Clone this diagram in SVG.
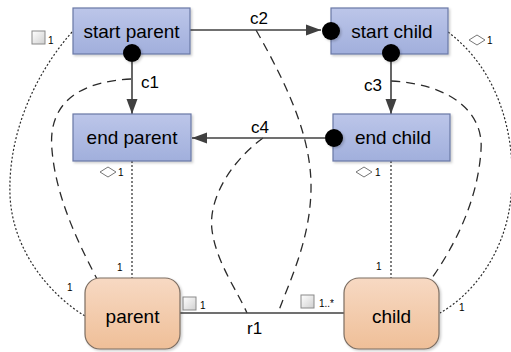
<svg xmlns="http://www.w3.org/2000/svg" width="511" height="352" viewBox="0 0 511 352">
<defs>
<linearGradient id="gBlue" x1="0" y1="0" x2="0" y2="1"><stop offset="0" stop-color="#bcc6e9"/><stop offset="1" stop-color="#a1afdc"/></linearGradient>
<linearGradient id="gOrange" x1="0" y1="0" x2="0" y2="1"><stop offset="0" stop-color="#f7d9c3"/><stop offset="1" stop-color="#efbf98"/></linearGradient>
<linearGradient id="gSq" x1="0" y1="0" x2="1" y2="1"><stop offset="0" stop-color="#ffffff"/><stop offset="1" stop-color="#d0d0d0"/></linearGradient>
<filter id="sh" x="-10%" y="-10%" width="130%" height="130%"><feDropShadow dx="1.5" dy="1.5" stdDeviation="1" flood-color="#000" flood-opacity="0.2"/></filter>
<marker id="arr" markerUnits="userSpaceOnUse" markerWidth="16" markerHeight="12" refX="15" refY="6" orient="auto"><path d="M0,0.5 L15,6 L0,11.5 z" fill="#404040"/></marker>
<style>
.box{fill:url(#gBlue);stroke:#6a78a6;stroke-width:1.2;filter:url(#sh)}
.obj{fill:url(#gOrange);stroke:#7d6e62;stroke-width:1.2;filter:url(#sh)}
.lbl{font-family:"Liberation Sans",Arial,sans-serif;font-size:19px;fill:#000;text-anchor:middle}
.cl{font-family:"Liberation Sans",Arial,sans-serif;font-size:17px;fill:#000}
.m{font-family:"Liberation Sans",Arial,sans-serif;font-size:10px;fill:#000}
.flow{stroke:#404040;stroke-width:1.6;fill:none}
.dash{stroke:#2a2a2a;stroke-width:1.3;fill:none;stroke-dasharray:9 6}
.dot{stroke:#2a2a2a;stroke-width:1.2;fill:none;stroke-dasharray:2 2}
.pin{fill:#000;filter:url(#sh)}
.sq{fill:url(#gSq);stroke:#8a8a8a;stroke-width:1}
.dm{fill:#fff;stroke:#777;stroke-width:1}
</style>
</defs>
<rect width="511" height="352" fill="#fff"/>

<g id="connectors">
<path class="dot" d="M72,32 C30,80 8,140 10,195 C12,250 50,295 85,316"/>
<path class="dot" d="M448,32 C505,75 518,150 510,205 C503,255 472,295 440,313"/>
<path class="dot" d="M132,161 L132,278"/>
<path class="dot" d="M391,161 L391,278"/>
<path class="dash" d="M131,79 C70,82 48,110 52,150 C56,200 82,250 97,279"/>
<path class="dash" d="M256,30 C290,90 312,140 311,190 C310,240 290,280 278,313"/>
<path class="dash" d="M391,81 C450,84 484,112 481,150 C478,200 455,245 432,278"/>
<path class="dash" d="M263,138 C230,162 208,200 212,230 C216,262 238,292 247,313"/>
<path class="flow" d="M180,313 L344,313"/>
<path class="flow" d="M132,62 L132,114" marker-end="url(#arr)"/>
<path class="flow" d="M189,30 L321,30" marker-end="url(#arr)"/>
<path class="flow" d="M391,62 L391,114" marker-end="url(#arr)"/>
<path class="flow" d="M325,138 L192,138" marker-end="url(#arr)"/>
<text class="cl" x="141" y="88">c1</text>
<text class="cl" x="250" y="24">c2</text>
<text class="cl" x="364" y="91">c3</text>
<text class="cl" x="251" y="133">c4</text>
<text class="cl" x="247" y="334">r1</text>
<rect class="sq" x="32" y="31" width="13" height="13"/><text class="m" x="48" y="44">1</text>
<rect class="sq" x="183" y="297" width="13" height="13"/><text class="m" x="200" y="309">1</text>
<rect class="sq" x="301" y="295" width="13" height="13"/><text class="m" x="319" y="307">1..*</text>
<path class="dm" d="M100,172 L108,167 L116,172 L108,177 z"/><text class="m" x="118" y="176">1</text>
<path class="dm" d="M469,40 L477,35 L485,40 L477,45 z"/><text class="m" x="487" y="44">1</text>
<path class="dm" d="M356,172 L364,167 L372,172 L364,177 z"/><text class="m" x="375" y="176">1</text>
<text class="m" x="117" y="271">1</text>
<text class="m" x="67" y="291">1</text>
<text class="m" x="376" y="270">1</text>
<text class="m" x="459" y="311">1</text>
</g>

<g id="start-parent"><rect class="box" x="73" y="8" width="117" height="46"/><text class="lbl" x="131.5" y="38">start parent</text><circle class="pin" cx="132" cy="53" r="9"/></g>
<g id="end-parent"><rect class="box" x="73" y="114" width="118" height="47"/><text class="lbl" x="132" y="144">end parent</text></g>
<g id="start-child"><rect class="box" x="331" y="8" width="117" height="46"/><text class="lbl" x="392" y="38">start child</text><circle class="pin" cx="331" cy="31" r="9"/><circle class="pin" cx="391" cy="53" r="9"/></g>
<g id="end-child"><rect class="box" x="333" y="114" width="117" height="47"/><text class="lbl" x="393" y="144">end child</text><circle class="pin" cx="334" cy="138" r="9"/></g>
<g id="parent"><rect class="obj" x="85" y="278" width="95" height="71" rx="15"/><text class="lbl" x="132.5" y="323">parent</text></g>
<g id="child"><rect class="obj" x="344" y="278" width="95" height="71" rx="15"/><text class="lbl" x="391.5" y="323">child</text></g>
</svg>
